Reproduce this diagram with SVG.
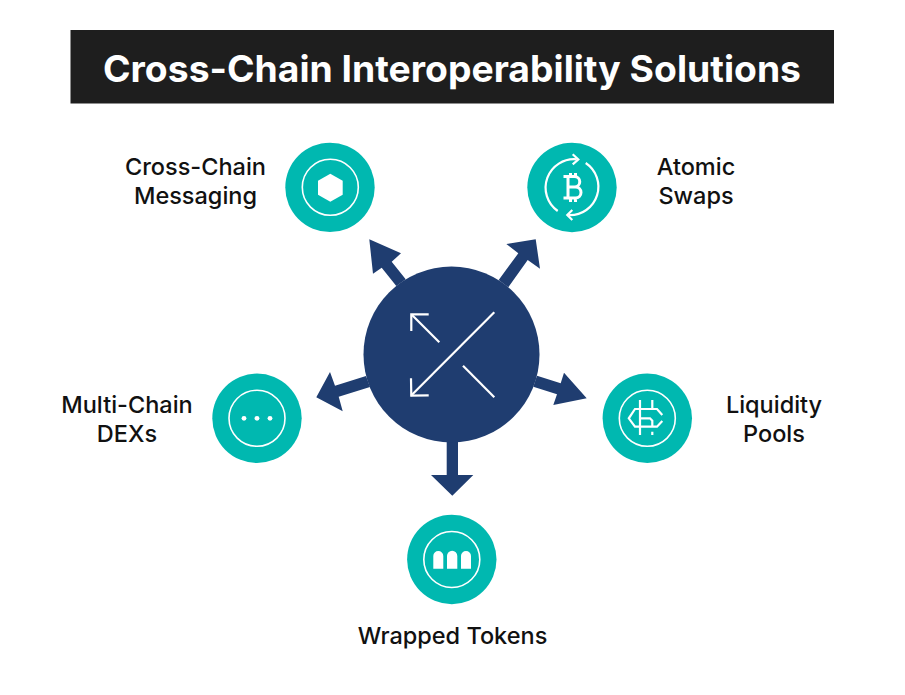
<svg xmlns="http://www.w3.org/2000/svg" width="905" height="695" viewBox="0 0 905 695">
<style>
.teal{fill:#00b8b0}
.ring{fill:none;stroke:#fff;stroke-width:1.6}
.ic{fill:none;stroke:#fff;stroke-width:2.200;stroke-linecap:butt;stroke-linejoin:miter}
.w{fill:#fff}
.lab{font-family:"Inter","Liberation Sans",sans-serif;font-weight:500;font-size:23.500px;fill:#111;text-anchor:middle}
.title{font-family:"Inter","Liberation Sans",sans-serif;font-weight:700;font-size:37px;fill:#fff;text-anchor:middle}
.arrow{fill:#1f3d70}
</style>
<rect width="905" height="695" fill="#fff"/>
<g id="title">
<rect x="70.500" y="30" width="763.500" height="73.500" fill="#1e1e1e"/>
<text class="title" x="452" y="81.500" textLength="698" lengthAdjust="spacingAndGlyphs">Cross-Chain Interoperability Solutions</text>
</g>
<g id="connectors" class="arrow">
<polygon points="369.300,239.300 401,253.300 391.700,261.700 405.700,279.300 396.300,286 381.700,267.700 373,273.700"/>
<polygon points="535.700,239.300 540,268.700 527.700,260 508.300,287.300 498.700,280 518.300,253.300 506.300,244"/>
<polygon points="316.300,397.300 330,372 335,385.700 366,376 370,387 338.700,396.700 342.700,411.300"/>
<polygon points="586.700,398.300 553.300,405 557,394.300 533.300,386.700 537,375.700 560.700,383.300 564,372.700"/>
<polygon points="452.300,495.700 431,475 446.700,475 446.700,440 458,440 458,475 473.300,475"/>
</g>
<g id="hub">
<circle cx="451.500" cy="354.500" r="88" class="arrow"/>
<g class="ic">
<path d="M494.300 312.300L411 395.700"/>
<path d="M428.700 395.300L411.300 395.700L411 378.300"/>
<path d="M439.300 342.300L411.500 314.500"/>
<path d="M428.700 314.300L411.300 314.300L411.300 331"/>
<path d="M463 365.700L494.300 397.300"/>
</g>
</g>
<g id="node-messaging">
<circle cx="330" cy="187.400" r="44.700" class="teal"/>
<circle cx="330.300" cy="187.300" r="28" class="ring"/>
<polygon class="w" points="330.300,173.700 342.700,180.700 342.700,194.700 330.300,201.700 318,194.700 318,180.700"/>
<text class="lab" x="195.500" y="174.500">Cross-Chain</text>
<text class="lab" x="195.500" y="203.500">Messaging</text>
</g>
<g id="node-swaps">
<circle cx="572" cy="187.500" r="44.700" class="teal"/>
<g class="ic">
<path d="M557.700 211A28.500 28.500 0 0 1 576.700 159.300"/>
<path d="M572.700 154.300L578.300 159.500L572.700 164.300"/>
<path d="M585.700 163A28.500 28.500 0 0 1 569 215.200"/>
<path d="M572.300 210L567.300 215L572.300 220"/>
<path d="M563.500 176.500H574.500a5 5 0 0 1 0 10.500H568M568 176.500V198M568 187H575.500a5.500 5.500 0 0 1 0 11H563.500M570.500 173V176.500M575.500 173V176.500M570.500 198V202M575.500 198V202" stroke-width="3"/>
</g>
<text class="lab" x="696" y="174.500">Atomic</text>
<text class="lab" x="696" y="203.500">Swaps</text>
</g>
<g id="node-liquidity">
<circle cx="647.300" cy="418.300" r="44.700" class="teal"/>
<circle cx="647.300" cy="418.300" r="28" class="ring"/>
<g class="ic">
<path d="M640 400V435M652.300 400V409M652.300 431.700V435"/>
<path d="M662.300 415L657 409H635L628.800 418.300L635 426.700H657L662.300 421"/>
<path d="M640 418.300H650L652.300 420.600V426.700"/>
</g>
<text class="lab" x="774" y="412.500">Liquidity</text>
<text class="lab" x="774" y="441.500">Pools</text>
</g>
<g id="node-tokens">
<circle cx="451.800" cy="559.500" r="44.700" class="teal"/>
<circle cx="451.800" cy="559.500" r="28" class="ring"/>
<path class="w" d="M433.300 568.700V556a5 5 0 0 1 10 0V568.700ZM447 568.700V556a5 5 0 0 1 10.300 0V568.700ZM461 568.700V556a5 5 0 0 1 10 0V568.700Z"/>
<text class="lab" x="452.500" y="643.500">Wrapped Tokens</text>
</g>
<g id="node-dexs">
<circle cx="257" cy="418.300" r="44.700" class="teal"/>
<circle cx="257" cy="418.300" r="28" class="ring"/>
<circle cx="244" cy="418.300" r="2.400" class="w"/><circle cx="257" cy="418.300" r="2.400" class="w"/><circle cx="270" cy="418.300" r="2.400" class="w"/>
<text class="lab" x="127" y="412.800">Multi-Chain</text>
<text class="lab" x="127" y="441.500">DEXs</text>
</g>
</svg>
